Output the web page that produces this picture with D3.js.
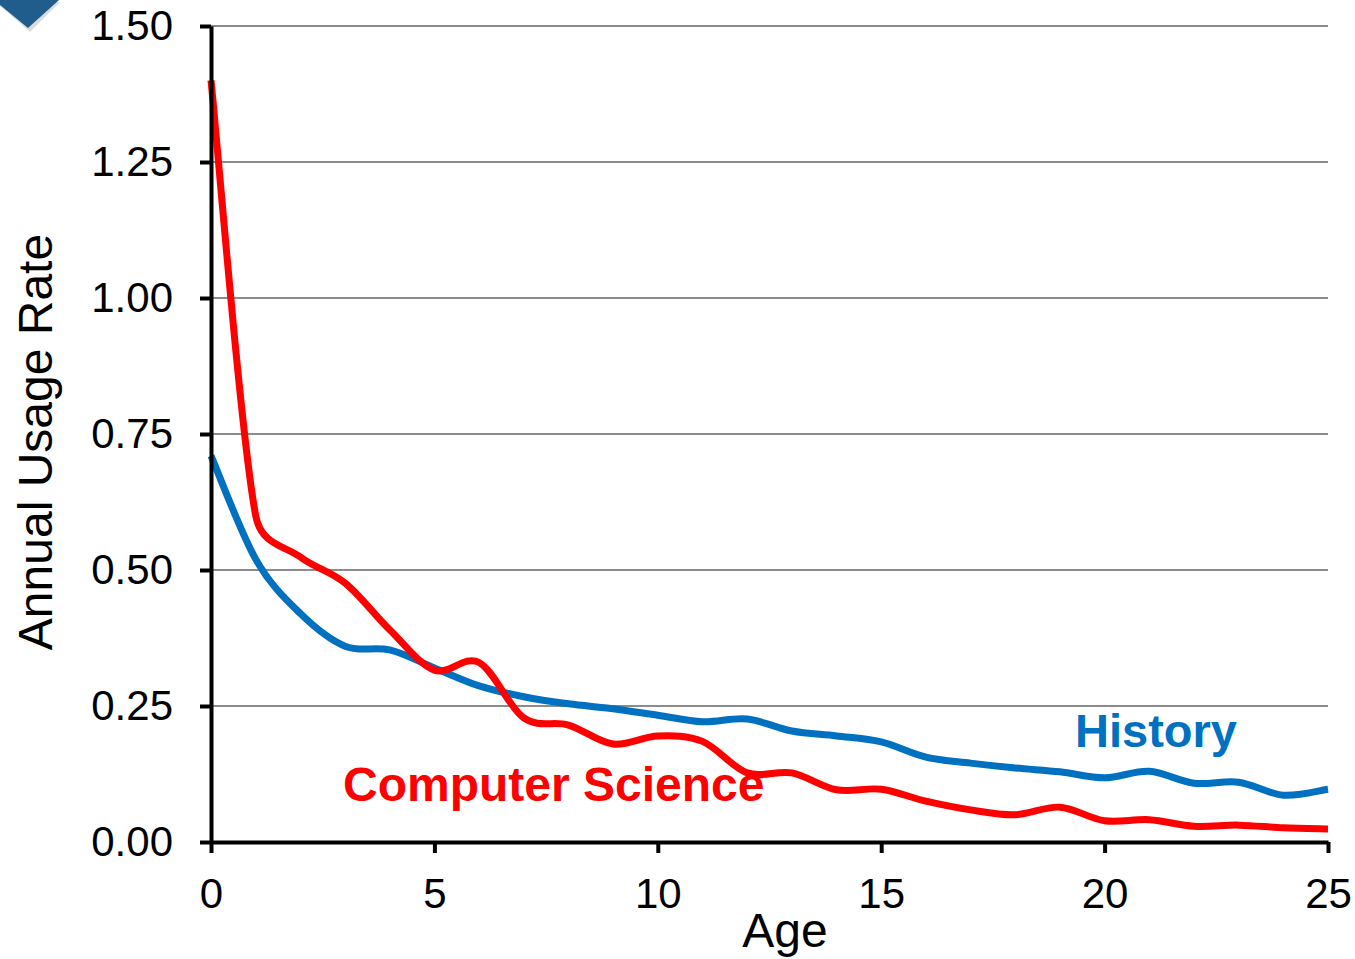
<!DOCTYPE html>
<html>
<head>
<meta charset="utf-8">
<script src="https://cdn.jsdelivr.net/npm/d3@7"></script>
<style>
  body { margin: 0; background: #fff; }
  svg { display: block; font-family: "Liberation Sans", Arial, sans-serif; }
</style>
</head>
<body>
<svg></svg>
<script>
let ages = d3.range(0, 26)
let historyRate = [0.71, 0.52, 0.42, 0.36, 0.353, 0.32, 0.287, 0.267, 0.254, 0.245, 0.233, 0.221, 0.226, 0.204, 0.195, 0.184,
                   0.156, 0.145, 0.136, 0.129, 0.118, 0.13, 0.108, 0.11, 0.086, 0.097]
let csRate = [1.40, 0.60, 0.524, 0.476, 0.39, 0.316, 0.33, 0.228, 0.215, 0.18, 0.195, 0.185, 0.127, 0.127, 0.096, 0.097,
              0.075, 0.059, 0.05, 0.064, 0.039, 0.041, 0.029, 0.031, 0.026, 0.024]
let xTicks = [0, 5, 10, 15, 20, 25]
let yTicks = [0, 0.25, 0.5, 0.75, 1.0, 1.25, 1.5]

let width = 1355
let height = 959
let plotLeft = 211, plotRight = 1328, plotTop = 26, plotBottom = 842

let svg = d3.select('svg').attr('width', width).attr('height', height)

// spreadsheet-style smoothing: bezier handles of 1/6, capped at half the segment
function SmoothCurve(context) { this._context = context }
SmoothCurve.prototype = {
  areaStart() {}, areaEnd() {},
  lineStart() { this._pts = [] },
  point(px, py) { this._pts.push([px, py]) },
  lineEnd() {
    let p = this._pts, c = this._context, n = p.length
    if (!n) return
    let dist = (a, b) => Math.hypot(b[0] - a[0], b[1] - a[1])
    c.moveTo(p[0][0], p[0][1])
    for (let i = 0; i < n - 1; i++) {
      let p0 = p[Math.max(i - 1, 0)], p1 = p[i], p2 = p[i + 1], p3 = p[Math.min(i + 2, n - 1)]
      let d12 = dist(p1, p2), d02 = dist(p0, p2), d13 = dist(p1, p3)
      let f0 = 1 / 6, f1 = 1 / 6
      if (d02 / 6 >= d12 / 2) f0 = d12 / d02 / 2
      if (d13 / 6 >= d12 / 2) f1 = d12 / d13 / 2
      c.bezierCurveTo(p1[0] + (p2[0] - p0[0]) * f0, p1[1] + (p2[1] - p0[1]) * f0,
                      p2[0] - (p3[0] - p1[0]) * f1, p2[1] - (p3[1] - p1[1]) * f1,
                      p2[0], p2[1])
    }
  }
}
let smoothCurve = context => new SmoothCurve(context)

// corner decoration
svg.append('path')
   .attr('d', 'M-4,2 L60,2 L30,32 Z')
   .attr('fill', '#999').attr('opacity', 0.35)
svg.append('path')
   .attr('d', 'M-6,0 L59,0 L28,28 Z')
   .attr('fill', '#215d8c')

let x = d3.scaleLinear().domain([0, 25]).range([plotLeft, plotRight])
let y = d3.scaleLinear().domain([0, 1.5]).range([plotBottom, plotTop])

// gridlines
svg.append('g')
   .selectAll('line')
   .data(yTicks.filter(d => d > 0))
   .join('line')
   .attr('x1', plotLeft).attr('x2', plotRight)
   .attr('y1', d => y(d)).attr('y2', d => y(d))
   .attr('stroke', '#8c8c8c').attr('stroke-width', 2)

let line = d3.line()
   .x((d, i) => x(ages[i]))
   .y(d => y(d))
   .curve(smoothCurve)

svg.append('path').datum(historyRate)
   .attr('d', line).attr('fill', 'none')
   .attr('stroke', '#0070c0').attr('stroke-width', 7)

svg.append('path').datum(csRate)
   .attr('d', line).attr('fill', 'none')
   .attr('stroke', '#ff0000').attr('stroke-width', 7)

// axes
let yAxis = svg.append('g')
   .attr('transform', `translate(${plotLeft},0)`)
   .call(d3.axisLeft(y).tickValues(yTicks).tickFormat(d3.format('.2f')).tickSize(11).tickPadding(27).tickSizeOuter(0))
let xAxis = svg.append('g')
   .attr('transform', `translate(0,${plotBottom})`)
   .call(d3.axisBottom(x).tickValues(xTicks).tickFormat(d3.format('d')).tickSize(11).tickPadding(25).tickSizeOuter(0))

for (let g of [xAxis, yAxis]) {
  g.select('.domain').attr('stroke', '#000').attr('stroke-width', 4)
  g.selectAll('.tick line').attr('stroke', '#000').attr('stroke-width', 4)
  g.selectAll('.tick text')
   .attr('font-size', 42).attr('fill', '#000')
   .attr('font-family', '"Liberation Sans", Arial, sans-serif')
}
xAxis.selectAll('.tick text').attr('dy', '0.71em')

svg.append('text')
   .attr('x', 785).attr('y', 947)
   .attr('text-anchor', 'middle').attr('font-size', 48)
   .text('Age')

svg.append('text')
   .attr('transform', 'translate(52,442) rotate(-90)')
   .attr('text-anchor', 'middle').attr('font-size', 48)
   .text('Annual Usage Rate')

svg.append('text')
   .attr('x', 1075).attr('y', 747)
   .attr('font-size', 47).attr('font-weight', 'bold').attr('fill', '#0070c0')
   .text('History')

svg.append('text')
   .attr('x', 343).attr('y', 801)
   .attr('font-size', 48).attr('font-weight', 'bold').attr('fill', '#ff0000')
   .text('Computer Science')
</script>
</body>
</html>
